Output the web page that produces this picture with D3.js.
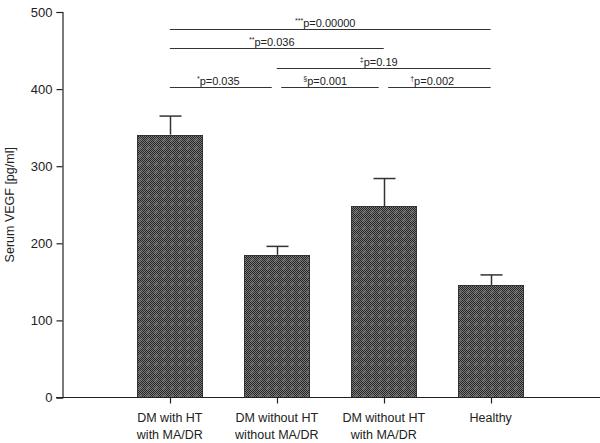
<!DOCTYPE html>
<html>
<head>
<meta charset="utf-8">
<script src="https://cdn.jsdelivr.net/npm/d3@7"></script>
<style>
  body { margin: 0; background: #fff; }
  svg { display: block; font-family: "Liberation Sans", Arial, sans-serif; }
</style>
</head>
<body>
<svg id="chart" width="600" height="443"></svg>
<script>
const categories = [
  ["DM with HT", "with MA/DR"],
  ["DM without HT", "without MA/DR"],
  ["DM without HT", "with MA/DR"],
  ["Healthy"]
];
const means = [341, 185, 248, 146];
const errorTops = [365, 196, 284, 159];
const yTicks = [0, 100, 200, 300, 400, 500];
const yLabel = "Serum VEGF [pg/ml]";

// comparisons: [fromIndex, toIndex, superscript, text, level value]
const compFrom = [0, 0, 1, 0, 1, 2];
const compTo   = [3, 2, 3, 1, 2, 3];
const compSup  = ["***", "**", "\u2021", "*", "\u00a7", "\u2020"];
const compText = ["p=0.00000", "p=0.036", "p=0.19", "p=0.035", "p=0.001", "p=0.002"];
const compLevel = [478, 453, 428, 403, 403, 403];

const svg = d3.select("#chart");

// pattern
const defs = svg.append("defs");
const pat = defs.append("pattern").attr("id", "chk").attr("patternUnits", "userSpaceOnUse")
  .attr("width", 8).attr("height", 8);
pat.append("rect").attr("width", 8).attr("height", 8).attr("fill", "#7a7a7a");
for (let i = 0; i < 8; i++) for (let j = 0; j < 8; j++) {
  if ((i + j) % 2 === 0) {
    const di = Math.abs(i - 3.5), dj = Math.abs(j - 3.5);
    const c = (di + dj < 2.5) ? "#4a4a4a" : "#262626";
    pat.append("rect").attr("x", i).attr("y", j).attr("width", 1).attr("height", 1).attr("fill", c);
  }
}

const x = d3.scaleBand().domain(d3.range(categories.length))
  .range([62.5, 598]).paddingInner(0.3925).paddingOuter(0.7);
const y = d3.scaleLinear().domain([0, 500]).range([397.5, 12]);
const cx = i => x(i) + x.bandwidth() / 2;

// bars
svg.append("g").selectAll("rect").data(means).join("rect")
  .attr("x", (d, i) => Math.round(x(i)) + 0.5)
  .attr("y", d => Math.round(y(d)) + 0.5)
  .attr("width", Math.round(x.bandwidth()))
  .attr("height", d => y(0) - Math.round(y(d)) - 0.5)
  .attr("fill", "url(#chk)")
  .attr("stroke", "#333").attr("stroke-width", 1);

// error bars
const eg = svg.append("g").attr("stroke", "#333").attr("stroke-width", 1.5);
means.forEach((m, i) => {
  const c = Math.round(cx(i)) + 0.5;
  eg.append("line").attr("x1", c).attr("x2", c).attr("y1", y(m)).attr("y2", y(errorTops[i]));
  eg.append("line").attr("x1", c - 11).attr("x2", c + 11).attr("y1", y(errorTops[i])).attr("y2", y(errorTops[i]));
});

// y axis
const yAxis = d3.axisLeft(y).tickValues(yTicks).tickSize(6).tickPadding(4);
const gy = svg.append("g").attr("transform", "translate(62.5,0)").call(yAxis);
gy.select(".domain").attr("stroke", "#222").attr("stroke-width", 1.2);
gy.selectAll(".tick line").attr("stroke", "#222").attr("stroke-width", 1.2);
gy.selectAll(".tick text").attr("font-size", 13).attr("fill", "#222")
  .attr("font-family", "Liberation Sans, Arial, sans-serif");

// x axis baseline and category ticks
svg.append("line").attr("x1", 56).attr("x2", 600).attr("y1", 397.5).attr("y2", 397.5)
  .attr("stroke", "#222").attr("stroke-width", 1.2);
const gx = svg.append("g");
categories.forEach((lines, i) => {
  const c = Math.round(cx(i)) + 0.5;
  gx.append("line").attr("x1", c).attr("x2", c).attr("y1", 397.5).attr("y2", 403.5)
    .attr("stroke", "#222").attr("stroke-width", 1.2);
  const t = gx.append("text").attr("text-anchor", "middle").attr("font-size", 12.5).attr("fill", "#222");
  lines.forEach((ln, k) => {
    t.append("tspan").attr("x", cx(i)).attr("y", 422 + k * 17).text(ln);
  });
});

// y label
svg.append("text").attr("transform", "translate(14," + ((y(0) + y(500)) / 2) + ") rotate(-90)")
  .attr("text-anchor", "middle").attr("font-size", 12.5).attr("fill", "#222").text(yLabel);

// comparisons
const cg = svg.append("g");
compFrom.forEach((f, k) => {
  const t = compTo[k];
  const lvl = compLevel[k];
  const sameLevel = compFrom.map((ff, m) => m).filter(m => m !== k && compLevel[m] === lvl);
  const shared = idx => sameLevel.some(m => compFrom[m] === idx || compTo[m] === idx);
  const x1 = cx(f) + (shared(f) ? 4.5 : 0);
  const x2 = cx(t) - (shared(t) ? 5 : 0);
  const yy = Math.round(y(lvl)) + 0.5;
  cg.append("line").attr("x1", x1).attr("x2", x2).attr("y1", yy).attr("y2", yy)
    .attr("stroke", "#333").attr("stroke-width", 1);
  const tx = cg.append("text").attr("x", (cx(f) + cx(t)) / 2 - 5).attr("y", yy - 3)
    .attr("text-anchor", "middle").attr("font-size", 11).attr("fill", "#222");
  tx.append("tspan").attr("font-size", 7).attr("dy", -4).text(compSup[k]);
  tx.append("tspan").attr("dy", 4).text(compText[k]);
});
</script>
</body>
</html>
